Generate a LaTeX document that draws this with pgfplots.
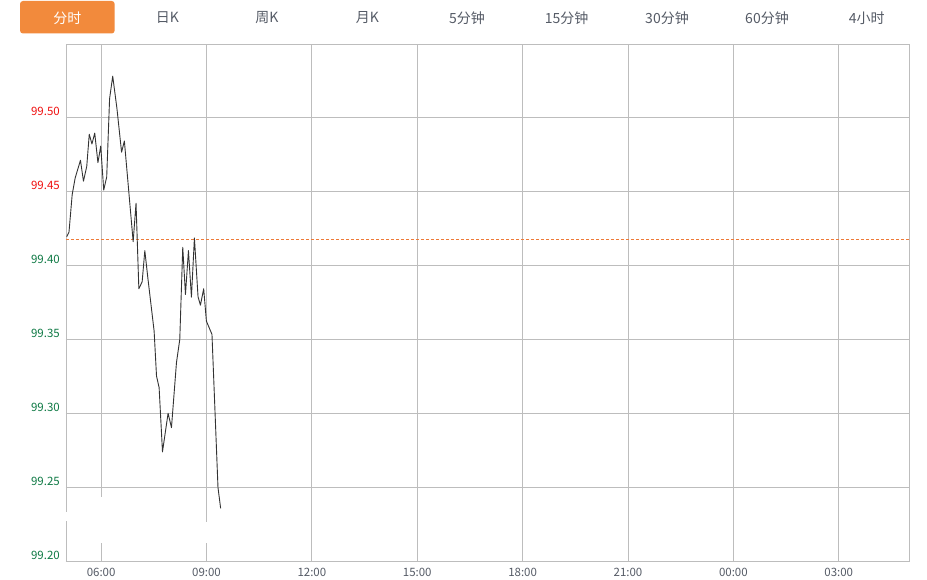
\documentclass[border=0pt]{standalone}
\usepackage{fontspec}
\setmainfont{Noto Sans CJK SC}
\usepackage{pgfplots}
\pgfplotsset{compat=1.18}

\definecolor{taborange}{HTML}{F28A3C}
\definecolor{tabtext}{HTML}{555B66}
\definecolor{gridc}{HTML}{BDBDBD}
\definecolor{upred}{HTML}{F01010}
\definecolor{dngreen}{HTML}{0F7A45}
\definecolor{prevclose}{HTML}{EE7A38}
\definecolor{pricel}{HTML}{333333}

% intraday price, hours since 00:00 (axis runs 05:00 -> 05:00 next day)
\pgfplotstableread{
t      v
5.020  99.4196
5.085  99.4226
5.176  99.4480
5.261  99.4593
5.412  99.4713
5.497  99.4571
5.591  99.4672
5.662  99.4889
5.739  99.4823
5.818  99.4897
5.909  99.4697
5.989  99.4809
6.074  99.4511
6.159  99.4600
6.241  99.5130
6.330  99.5282
6.449  99.5066
6.582  99.4768
6.662  99.4843
6.912  99.4162
6.994  99.4422
7.074  99.3843
7.168  99.3890
7.244  99.4101
7.330  99.3917
7.509  99.3556
7.577  99.3252
7.651  99.3174
7.747  99.2739
7.906  99.3000
8.003  99.2903
8.145  99.3343
8.239  99.3500
8.324  99.4124
8.401  99.3804
8.486  99.4101
8.571  99.3786
8.656  99.4187
8.759  99.3789
8.827  99.3732
8.920  99.3843
8.997  99.3624
9.156  99.3534
9.327  99.2498
9.403  99.2356
}\pricedata

\begin{document}
\begin{tikzpicture}[x=1pt,y=1pt]
\useasboundingbox[fill=white] (0,0) rectangle (927,580);

% period tabs
\fill[taborange, rounded corners=3pt] (20,546.5) rectangle (114.7,579);
\node[white, font=\fontsize{14}{16}\selectfont] at (67.3,562) {分时};
\foreach \x/\lab in {167.5/日K, 267/周K, 367.5/月K, 467/5分钟, 566.7/15分钟,
                     667/30分钟, 767/60分钟, 866.7/4小时}
  \node[text=tabtext, font=\fontsize{14}{16}\selectfont] at (\x,562) {\lab};

\begin{axis}[
    at={(66pt,19pt)}, anchor=south west,
    scale only axis,
    width=843pt, height=517pt,
    xmin=5, xmax=29,
    ymin=99.2, ymax=99.55,
    xtick={6,9,12,15,18,21,24,27},
    xticklabels={06:00,09:00,12:00,15:00,18:00,21:00,00:00,03:00},
    ytick={99.2,99.25,99.3,99.35,99.4},
    yticklabels={99.20,99.25,99.30,99.35,99.40},
    extra y ticks={99.45,99.5},
    extra y tick labels={99.45,99.50},
    extra y tick style={grid=major, yticklabel style={text=upred}},
    grid=major,
    major grid style={gridc, line width=0.8pt},
    major tick length=0pt,
    axis line style={gridc, line width=0.8pt},
    xticklabel style={anchor=center, inner sep=0pt, yshift=-11pt,
        text=tabtext, font=\fontsize{11.5}{12}\selectfont},
    yticklabel style={anchor=east, inner sep=0pt, xshift=-6pt, yshift=6pt,
        text=dngreen, font=\fontsize{11.5}{12}\selectfont},
]
% previous close
\addplot[prevclose, line width=0.7pt, dash pattern=on 3pt off 2pt]
    coordinates {(5,99.418) (29,99.418)};
% price line
\addplot[pricel, line width=0.9pt, line join=round, mark=none]
    table[x=t, y=v] {\pricedata};
\end{axis}

% white gaps in the grid near the bottom left
\fill[white] (64,59) rectangle (69,68);
\fill[white] (98,37) rectangle (102.5,83);
\fill[white] (204,37) rectangle (208.5,58);
\end{tikzpicture}
\end{document}
